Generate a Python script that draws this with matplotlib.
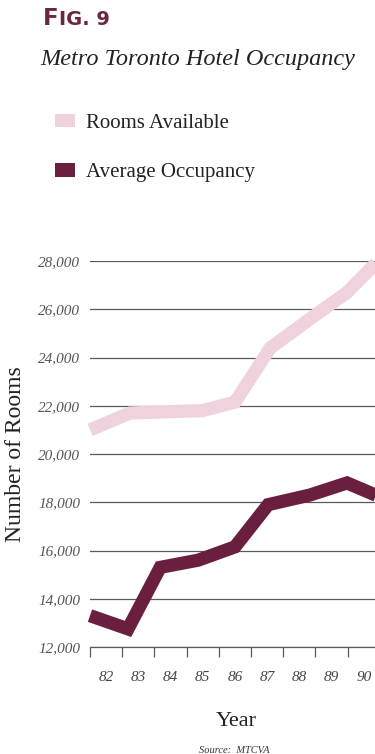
import matplotlib
matplotlib.use("Agg")
import matplotlib.pyplot as plt
from matplotlib.patches import Patch
from matplotlib.ticker import FixedLocator, FuncFormatter

# values (x in year units, the label "82" sits at 82)
year_labels = ["82", "83", "84", "85", "86", "87", "88", "89", "90"]
year_pos = [82, 83, 84, 85, 86, 87, 88, 89, 90]
tick_edges = [81.5, 82.5, 83.5, 84.5, 85.5, 86.5, 87.5, 88.5, 89.5, 90.5]

rooms_x = [81.5, 82.75, 85.0, 86.0, 87.1, 88.33, 89.48, 90.45]
rooms_available = [21000, 21700, 21800, 22150, 24400, 25600, 26700, 28000]

occ_x = [81.5, 82.68, 83.68, 84.86, 86.0, 87.03, 88.33, 89.48, 90.45]
avg_occupancy = [13300, 12750, 15300, 15600, 16150, 17900, 18300, 18800, 18250]

y_ticks = [12000, 14000, 16000, 18000, 20000, 22000, 24000, 26000, 28000]

pink = "#efd2de"
maroon = "#6b1f3f"
grid_col = "#5a5a5a"
serif = ["Liberation Serif", "DejaVu Serif"]

W, H = 375, 754
fig = plt.figure(figsize=(W / 100, H / 100), dpi=100)
fig.patch.set_facecolor("white")

# axes in pixel terms: left 90, bottom grid line at 647, top at 261; runs past the right edge
ax = fig.add_axes([90 / W, (H - 647) / H, 306 / W, (647 - 261) / H])
ax.set_xlim(81.5, 91.0)
ax.set_ylim(12000, 28000)

ax.plot(rooms_x, rooms_available, color=pink, lw=9.5, solid_joinstyle="miter",
        solid_capstyle="butt", clip_on=False, zorder=3)
ax.plot(occ_x, avg_occupancy, color=maroon, lw=9.5, solid_joinstyle="miter",
        solid_capstyle="butt", clip_on=False, zorder=4)

for sp in ["left", "right", "top"]:
    ax.spines[sp].set_visible(False)
ax.spines["bottom"].set_color(grid_col)
ax.spines["bottom"].set_linewidth(0.9)

ax.set_yticks(y_ticks)
ax.yaxis.set_major_formatter(FuncFormatter(lambda v, p: f"{int(v):,}"))
ax.yaxis.grid(True, color=grid_col, lw=0.9)
ax.set_axisbelow(True)
ax.tick_params(axis="y", length=0, pad=7, labelcolor="#555555", labelsize=11)
for t in ax.get_yticklabels():
    t.set_fontfamily(serif)
    t.set_fontstyle("italic")

ax.set_xticks(year_pos)
ax.set_xticklabels(year_labels, fontfamily=serif, fontstyle="italic",
                   color="#444444", fontsize=11)
ax.xaxis.set_minor_locator(FixedLocator(tick_edges))
ax.tick_params(axis="x", which="major", length=0, pad=17)
ax.tick_params(axis="x", which="minor", length=7, width=0.9, color=grid_col,
               direction="out")

ax.set_ylabel("Number of Rooms", fontfamily=serif, fontsize=17, color="#222222")
ax.yaxis.set_label_coords(-0.21, 0.5)
ax.set_xlabel("Year", fontfamily=serif, fontsize=16, color="#222222")
ax.xaxis.set_label_coords(0.477, -0.168)

# heading
fig.text(43 / W, 1 - 25 / H, "F", color="#6e2543", fontsize=16.5, fontweight="bold",
         fontfamily="DejaVu Sans", va="baseline")
fig.text(59 / W, 1 - 25 / H, "IG. 9", color="#6e2543", fontsize=14,
         fontweight="bold", fontfamily="DejaVu Sans", va="baseline")
fig.text(40 / W, 1 - 65 / H, "Metro Toronto Hotel Occupancy", fontfamily=serif,
         fontstyle="italic", fontsize=17.5, color="#222222", va="baseline")

handles = [Patch(facecolor=pink, edgecolor="none"),
           Patch(facecolor=maroon, edgecolor="none")]
fig.legend(handles, ["Rooms Available", "Average Occupancy"], loc="upper left",
           bbox_to_anchor=(36 / W, 1 - 95 / H), frameon=False,
           prop={"family": serif, "size": 15}, handlelength=0.95,
           handleheight=0.62, handletextpad=0.55, labelspacing=1.45,
           labelcolor="#222222")

fig.text(234 / W, 1 - 753 / H, "Source:  MTCVA", fontfamily=serif,
         fontstyle="italic", fontsize=7.5, color="#333333", ha="center",
         va="baseline")

fig.savefig("out.png", dpi=100)
